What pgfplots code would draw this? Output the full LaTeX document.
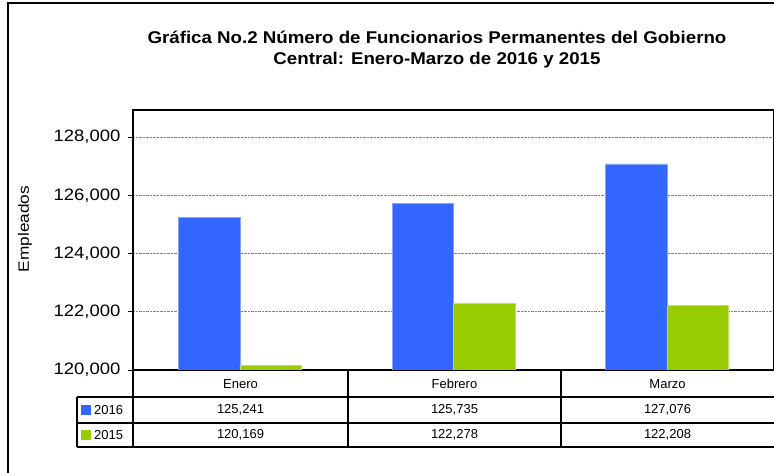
\documentclass[border=0pt]{standalone}
\usepackage{fontspec}
\setmainfont{Liberation Sans}
\newfontfamily\tickfont[FakeStretch=1.12]{Liberation Sans}
\newfontfamily\titlefont[FakeStretch=1.1]{Liberation Sans}
\newfontfamily\labfont[FakeStretch=1.15]{Liberation Sans}
\usepackage{pgfplots}
\pgfplotsset{compat=1.18}
\definecolor{b16}{HTML}{3366FF}
\definecolor{g15}{HTML}{99CC00}
\begin{document}
\begin{tikzpicture}[x=1pt,y=1pt]
\useasboundingbox (0,0) rectangle (774,473);
% outer frame
\draw[line width=2pt] (8,0) -- (8,469.5) -- (780,469.5);
% title
\node[font=\titlefont\fontsize{17}{20}\selectfont\bfseries] at (437,436) {Gráfica No.2 Número de Funcionarios Permanentes del Gobierno};
\node[font=\titlefont\fontsize{17}{20}\selectfont\bfseries] at (437,413) {Central: Enero-Marzo de 2016 y 2015};
% y label
\node[rotate=90,font=\labfont\fontsize{15}{17}\selectfont] at (25,244) {Empleados};
\begin{axis}[
  at={(133pt,103pt)}, anchor=south west,
  width=641pt, height=260pt, scale only axis,
  xmin=-0.5, xmax=2.5,
  ymin=120000, ymax=128930,
  xtick=\empty,
  ytick={120000,122000,124000,126000,128000},
  scaled y ticks=false,
  yticklabel style={font=\tickfont\fontsize{16.5}{18}\selectfont, xshift=-4pt,
    /pgf/number format/.cd, fixed, 1000 sep={,}, assume math mode=true},
  tick align=outside, major tick length=5pt,
  ymajorgrids, grid style={densely dotted, gray, line width=0.6pt},
  axis line style={line width=1.3pt},
  ytick style={line width=0.8pt, black},
  clip=true,
]
\addplot[ybar, bar width=61.5pt, bar shift=-30.75pt, fill=b16, draw=b16!60!white, line width=0.5pt]
  coordinates {(0,125241) (1,125735) (2,127076)};
\addplot[ybar, bar width=61.5pt, bar shift=30.75pt, fill=g15, draw=g15!60!white, line width=0.5pt]
  coordinates {(0,120169) (1,122278) (2,122208)};
\end{axis}
% data table
\begin{scope}[line width=1.3pt]
\draw (133,103) -- (133,26);
\draw (348,103) -- (348,26);
\draw (561,103) -- (561,26);
\draw (77,76) -- (77,26);
\draw (77,76) -- (780,76);
\draw (77,50) -- (780,50);
\draw (77,26) -- (780,26);
\end{scope}
\begin{scope}[font=\fontsize{13}{15}\selectfont]
\node at (240.5,89) {Enero};
\node at (454.5,89) {Febrero};
\node at (667.5,89) {Marzo};
\node at (240.5,63) {125,241};
\node at (454.5,63) {125,735};
\node at (667.5,63) {127,076};
\node at (240.5,38) {120,169};
\node at (454.5,38) {122,278};
\node at (667.5,38) {122,208};
\fill[b16] (81,58) rectangle (91,68);
\node[anchor=west,inner sep=0pt] at (94,63) {2016};
\fill[g15] (81,33) rectangle (91,43);
\node[anchor=west,inner sep=0pt] at (94,38) {2015};
\end{scope}
\end{tikzpicture}
\end{document}
